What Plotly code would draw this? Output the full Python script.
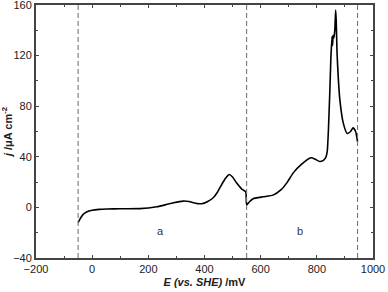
import plotly.graph_objects as go

E_mV = [-50, -40, -32, -20, 0, 25, 52, 100, 170, 230, 260, 290, 324, 345, 360, 375, 390, 410, 431, 446, 461, 475, 488, 500, 514, 532, 546, 548,
        550, 560, 573, 609, 644, 674, 695, 716, 745, 779, 795, 810, 822, 832, 837, 841, 846, 850, 854, 856, 858, 861, 864, 867, 869, 872, 877, 882, 894, 908, 920, 929, 938, 945]
j_uA = [-12, -8, -5.5, -3.6, -2.2, -1.6, -1.3, -1.1, -1, 0.5, 2, 3.7, 5, 4.6, 3.7, 3, 2.9, 4.5, 7.6, 12, 18, 23, 26, 24, 19.5, 14.7, 12.5, 11,
        2, 4.5, 6.9, 8.4, 9.7, 14.2, 20, 27.3, 34, 39.2, 38, 36.3, 37, 39.5, 44, 60, 90, 118, 135, 128, 136, 134, 140, 156, 148, 122, 100, 85, 66.8, 58.4, 60, 62.9, 60, 52]

vlines = [-50, 550, 945]
labels = ["a", "b"]
label_E = [245, 740]
label_j = [-19, -19]

x_ticks = [-200, 0, 200, 400, 600, 800, 1000]
y_ticks = [-40, 0, 40, 80, 120, 160]

fig = go.Figure()
fig.add_trace(go.Scatter(x=E_mV, y=j_uA, mode="lines",
                         line=dict(color="black", width=1.6, shape="spline", smoothing=0.5),
                         showlegend=False))
for v in vlines:
    fig.add_shape(type="line", x0=v, x1=v, y0=-40, y1=160, xref="x", yref="y",
                  line=dict(color="#777777", width=1.1, dash="5px,3px"))
for t, xe, yj in zip(labels, label_E, label_j):
    fig.add_annotation(x=xe, y=yj, text=t, showarrow=False,
                       font=dict(family="Liberation Sans, Arial", size=11, color="#333333"))

axis_common = dict(showline=True, linecolor="#444", linewidth=2, mirror="ticks",
                   ticks="inside", ticklen=3, tickwidth=1.2, tickcolor="#444",
                   showgrid=False, zeroline=False, ticklabeloverflow="allow",
                   tickfont=dict(family="Liberation Sans, Arial", size=11, color="#222"))

fig.update_xaxes(range=[-200, 1000], tickvals=x_ticks,
                 minor=dict(ticks="inside", ticklen=2, tickwidth=1, tickcolor="#444", dtick=100, tick0=0),
                 title=dict(text="<b><i>E (vs. SHE)</i> /mV</b>", standoff=4,
                            font=dict(family="Liberation Sans, Arial", size=11, color="#222")),
                 **axis_common)
fig.update_yaxes(range=[-40, 160], tickvals=y_ticks,
                 minor=dict(ticks="inside", ticklen=2, tickwidth=1, tickcolor="#444", dtick=20, tick0=0),
                 title=dict(text="<b><i>j</i> /μA cm<sup>-2</sup></b>", standoff=2,
                            font=dict(family="Liberation Sans, Arial", size=11, color="#222")),
                 **axis_common)

fig.update_layout(width=388, height=292, margin=dict(l=36, r=15, t=5, b=34, autoexpand=False),
                  plot_bgcolor="white", paper_bgcolor="white")
fig.write_html("out.html", config={"displayModeBar": False},
               post_script="document.body.style.margin='0';document.body.style.overflow='hidden';")
